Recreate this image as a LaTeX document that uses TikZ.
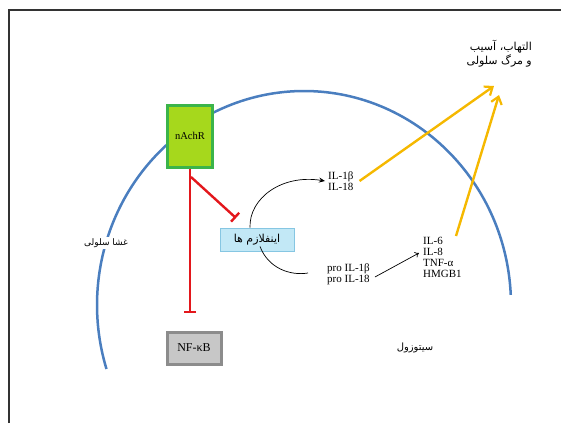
\documentclass[tikz,border=0pt]{standalone}
\usepackage{fontspec}
\setmainfont{Liberation Serif}
\newfontfamily\fa[Script=Arabic]{DejaVu Sans}
\TeXXeTstate=1
\usetikzlibrary{arrows.meta}
\definecolor{memblue}{HTML}{4A7EBF}
\definecolor{inhred}{HTML}{E3171C}
\definecolor{gold}{HTML}{F5B800}
\definecolor{limefill}{HTML}{A6D81C}
\definecolor{limeedge}{HTML}{3BB44A}
\definecolor{iceblue}{HTML}{C2E8F6}
\definecolor{iceedge}{HTML}{86C6E2}
\begin{document}
\begin{tikzpicture}[x=1pt,y=-1pt,
  lbl/.style={font=\fontsize{11}{11}\selectfont, align=left, inner sep=0pt},
  falbl/.style={font=\fa\fontsize{9}{14}\selectfont, inner sep=1pt},
  inhib/.style={draw=inhred, line width=2.4pt, -{Bar[width=12pt,line width=2.4pt]}},
  yarrow/.style={draw=gold, line width=2.4pt, -{Straight Barb[length=7pt,width=11pt,line width=2.2pt]}},
  thin/.style={draw=black, line width=0.7pt}]
\useasboundingbox (0,0) rectangle (561,423);
% frame
\draw[line width=2pt, black!80] (9,423) -- (9,9.5) -- (562,9.5);
% membrane
\draw[memblue, line width=2.5pt] (304,305) ++(-2.7:207 and 214) arc[start angle=-2.7, end angle=-197.4, x radius=207, y radius=214];
% nodes
\node[draw=limeedge, fill=limefill, line width=3pt, minimum width=45pt, minimum height=62pt, inner sep=0pt,
      font=\fontsize{10.5}{11}\selectfont] (nachr) at (190,136) {nAchR};
\node[draw=iceedge, fill=iceblue, line width=0.8pt, minimum width=74pt, minimum height=23pt, inner sep=0pt,
      font=\fa\fontsize{11}{12}\selectfont] (inflam) at (257,239.5) {\beginR اینفلازم ها\endR};
\node[draw=black!45, fill=black!22, line width=3pt, minimum width=54pt, minimum height=32pt, inner sep=0pt,
      font=\fontsize{12}{13}\selectfont] (nfkb) at (194,348) {NF-κB};
\node[lbl, anchor=west] (il1) at (328,181) {IL-1β\\IL-18};
\node[lbl, anchor=west] (pro) at (327,274) {pro IL-1β\\pro IL-18};
\node[lbl, anchor=north west] (il6) at (423,237) {IL-6\\IL-8\\TNF-α\\HMGB1};
\node[falbl, fill=white] (memb) at (106,243) {\beginR غشا سلولی\endR};
\node[falbl, font=\fa\fontsize{10}{14}\selectfont] (cyto) at (415,348) {\beginR سیتوزول\endR};
\node[falbl, font=\fa\fontsize{11}{14}\selectfont, align=right, anchor=north east] (out) at (533,39) {\beginR التهاب، آسیب\endR\\\beginR و مرگ سلولی\endR};
% inhibition
\coordinate (nfbar) at (190,313);
\coordinate (rsplit) at (191,177);
\coordinate (inbar) at (236,218);
\draw[inhib] (nachr.south) -- (nfbar);
\draw[inhib] (rsplit) -- (inbar);
% black connectors
\draw[thin, -{Stealth[length=6pt,width=5pt]}] ([xshift=-7pt]inflam.north) .. controls (249,198) and (282,174) .. ([xshift=-3pt]il1.west);
\draw[thin] ([xshift=3pt,yshift=5pt]inflam.south) .. controls (268,268) and (290,276) .. ([xshift=-19pt]pro.west |- 0,273);
\draw[thin, -{To[length=4pt,width=6pt]}] ([xshift=5pt,yshift=-3pt]pro.east) -- ([xshift=-4pt]il6.west |- 0,253);
% yellow arrows
\coordinate (y1) at (494,86);
\coordinate (y2) at (499,95);
\draw[yarrow] ([xshift=6pt]il1.east) -- (y1);
\draw[yarrow] (456,236) -- (y2);
\end{tikzpicture}
\end{document}
